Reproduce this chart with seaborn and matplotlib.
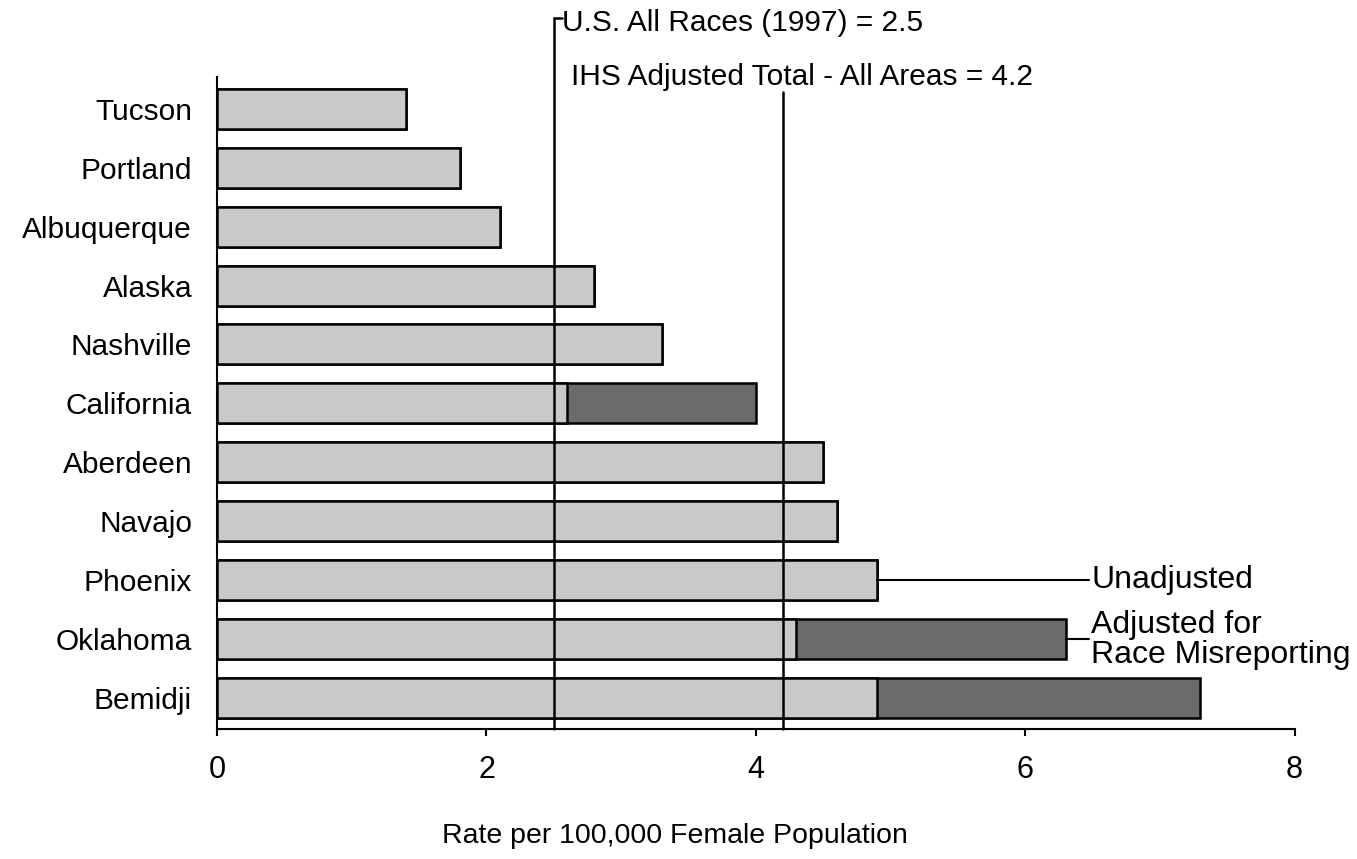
import numpy as np
import pandas as pd
import matplotlib
matplotlib.use('Agg')
import matplotlib.pyplot as plt
import matplotlib.transforms as mtransforms
import seaborn as sns

# rates per 100,000 female population
areas = ['Tucson', 'Portland', 'Albuquerque', 'Alaska', 'Nashville', 'California',
         'Aberdeen', 'Navajo', 'Phoenix', 'Oklahoma', 'Bemidji']
unadjusted = [1.4, 1.8, 2.1, 2.8, 3.3, 2.6, 4.5, 4.6, 4.9, 4.3, 4.9]
adjusted = [1.4, 1.8, 2.1, 2.8, 3.3, 4.0, 4.5, 4.6, 4.9, 6.3, 7.3]

us_all_races = 2.5
ihs_total = 4.2
xticks = [0, 2, 4, 6, 8]

df = pd.DataFrame({'Area': areas, 'Unadjusted': unadjusted, 'Adjusted': adjusted})

sns.set_style('white')
plt.rcParams['font.family'] = ['Liberation Sans', 'DejaVu Sans']
plt.rcParams['text.color'] = 'black'
plt.rcParams['xtick.color'] = 'black'
plt.rcParams['ytick.color'] = 'black'
plt.rcParams['axes.labelcolor'] = 'black'

fig = plt.figure(figsize=(13.57, 8.59), dpi=100)
ax = fig.add_axes([0.16, 0.151, 0.794, 0.759])

# adjusted total first, unadjusted drawn over it
sns.barplot(data=df, x='Adjusted', y='Area', order=areas, orient='h', color='#6b6b6b',
            width=0.68, edgecolor='black', linewidth=1.8, saturation=1, ax=ax)
sns.barplot(data=df, x='Unadjusted', y='Area', order=areas, orient='h', color='#c9c9c9',
            width=0.68, edgecolor='black', linewidth=1.8, saturation=1, ax=ax)

ax.set_xlim(0, 8)
ax.set_ylim(10.54, -0.54)
ax.set_xticks(xticks)
ax.set_xticklabels([str(t) for t in xticks])
ax.tick_params(axis='x', direction='out', length=5, width=1.5, labelsize=22, pad=13.5,
               bottom=True)
ax.tick_params(axis='y', length=0, labelsize=21.5, pad=18)
for s in ['top', 'right']:
    ax.spines[s].set_visible(False)
for s in ['bottom', 'left']:
    ax.spines[s].set_linewidth(1.5)
    ax.spines[s].set_color('black')
ax.set_ylabel('')
ax.set_xlabel('Rate per 100,000 Female Population', fontsize=20.5)
ax.xaxis.set_label_coords(0.425, -0.143)

# reference lines
trans = mtransforms.blended_transform_factory(ax.transData, ax.transAxes)
ax.plot([us_all_races, us_all_races], [0, 1.0905], transform=trans, color='black',
        lw=1.8, clip_on=False, zorder=5)
ax.plot([us_all_races, us_all_races + 0.06], [1.0905, 1.0905], transform=trans,
        color='black', lw=1.8, clip_on=False, zorder=5)
ax.plot([ihs_total, ihs_total], [0, 0.977], transform=trans, color='black',
        lw=1.8, clip_on=False, zorder=5)
ax.text(us_all_races + 0.06, 1.084, 'U.S. All Races (1997) = 2.5', transform=trans,
        fontsize=21.5, va='center', ha='left')
ax.text(us_all_races + 0.13, 1.0, 'IHS Adjusted Total - All Areas = 4.2', transform=trans,
        fontsize=21.5, va='center', ha='left')

# series labels with leader lines
ax.plot([unadjusted[8], 6.47], [8, 8], color='black', lw=1.5, clip_on=False)
ax.text(6.49, 8, 'Unadjusted', fontsize=23, va='center', ha='left')
ax.plot([adjusted[9], 6.47], [9, 9], color='black', lw=1.5, clip_on=False)
ax.text(6.49, 9.03, 'Adjusted for\nRace Misreporting', fontsize=23, va='center',
        ha='left', linespacing=1.0)

fig.savefig('out.png', dpi=100)
